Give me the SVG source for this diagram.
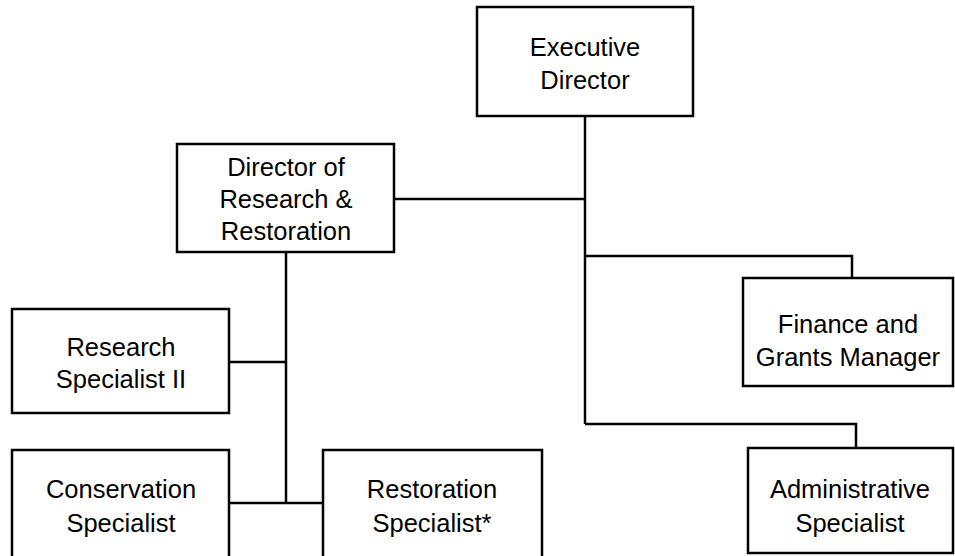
<svg xmlns="http://www.w3.org/2000/svg" width="955" height="556" viewBox="0 0 955 556">
<style>
.box{fill:#fff;stroke:#000;stroke-width:2.5}
.lbl{font-family:"Liberation Sans",Arial,sans-serif;font-size:25.5px;fill:#000;text-anchor:middle}
.conn{fill:none;stroke:#000;stroke-width:2.5}
</style>
<rect width="955" height="556" fill="#fff"/>
<g id="connectors">
<path class="conn" d="M585,116 V424"/>
<path class="conn" d="M394,199 H585"/>
<path class="conn" d="M585,256 H852 V278"/>
<path class="conn" d="M585,424 H856 V448"/>
<path class="conn" d="M286,252 V503"/>
<path class="conn" d="M229,362 H286"/>
<path class="conn" d="M229,503 H323"/>
</g>
<g id="exec"><rect class="box" x="477" y="7" width="216" height="109"/><text class="lbl" x="585" y="56">Executive</text><text class="lbl" x="585" y="89">Director</text></g>
<g id="dirrr"><rect class="box" x="177" y="144" width="217" height="108"/><text class="lbl" x="286" y="176">Director of</text><text class="lbl" x="286" y="208">Research &amp;</text><text class="lbl" x="286" y="240">Restoration</text></g>
<g id="research"><rect class="box" x="12" y="309" width="217" height="104"/><text class="lbl" x="121" y="356">Research</text><text class="lbl" x="121" y="388">Specialist II</text></g>
<g id="finance"><rect class="box" x="743" y="278" width="210" height="108"/><text class="lbl" x="848" y="333">Finance and</text><text class="lbl" x="848" y="366">Grants Manager</text></g>
<g id="admin"><rect class="box" x="748" y="448" width="205" height="105"/><text class="lbl" x="850" y="498">Administrative</text><text class="lbl" x="850" y="532">Specialist</text></g>
<g id="conservation"><rect class="box" x="12" y="450" width="217" height="110"/><text class="lbl" x="121" y="498">Conservation</text><text class="lbl" x="121" y="532">Specialist</text></g>
<g id="restoration"><rect class="box" x="323" y="450" width="219" height="110"/><text class="lbl" x="432" y="498">Restoration</text><text class="lbl" x="432" y="532">Specialist*</text></g>
</svg>
